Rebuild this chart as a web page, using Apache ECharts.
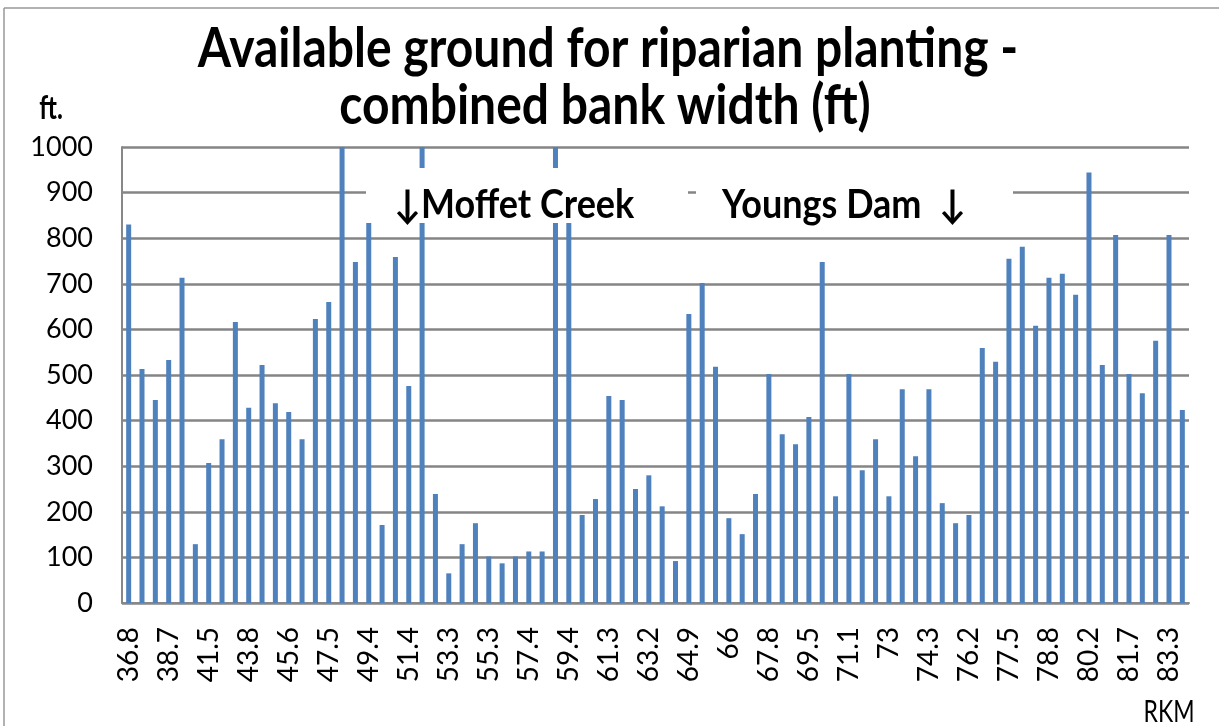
<!DOCTYPE html>
<html><head><meta charset="utf-8">
<script src="https://cdn.jsdelivr.net/npm/echarts@6/dist/echarts.min.js"></script>
<style>html,body{margin:0;padding:0;background:#fff}#c{width:1219px;height:726px}</style>
</head><body><div id="c"></div>
<script>
// RKM labels shown on the axis (every third bar carries a label)
const tickLabels = ['36.8','38.7','41.5','43.8','45.6','47.5','49.4','51.4','53.3','55.3','57.4','59.4','61.3','63.2','64.9','66','67.8','69.5','71.1','73','74.3','76.2','77.5','78.8','80.2','81.7','83.3'];
// combined bank width (ft), one value per bar, left to right
const widths = [
  830,513,445,533,713,129,307,359,616,428,
  522,438,419,359,623,660,1000,748,850,171,
  759,476,1000,239,65,129,175,102,87,102,
  113,113,1000,850,193,228,454,445,250,280,
  212,92,634,702,518,186,151,239,502,370,
  348,408,748,234,502,291,359,234,469,322,
  469,219,175,193,559,529,755,781,608,713,
  722,676,944,522,807,502,460,575,807,423
];
const yTicks = [0,100,200,300,400,500,600,700,800,900,1000];
const categories = widths.map((v, i) => (i % 3 === 0 && tickLabels[i / 3] !== undefined) ? tickLabels[i / 3] : '');

const chart = echarts.init(document.getElementById('c'), null, {renderer: 'canvas'});
const FONT = 'Lato, "Open Sans", sans-serif';
chart.setOption({
  animation: false,
  grid: {left: 122, right: 30, top: 147, bottom: 123, containLabel: false},
  xAxis: {
    type: 'category',
    data: categories,
    boundaryGap: true,
    axisLine: {show: true, lineStyle: {color: '#888', width: 2}},
    axisTick: {show: false},
    axisLabel: {
      interval: 0, rotate: 90, margin: 24,
      color: '#000', fontFamily: FONT, fontSize: 28
    },
    splitLine: {show: false}
  },
  yAxis: {
    type: 'value', min: yTicks[0], max: yTicks[yTicks.length - 1], interval: 100,
    axisLine: {show: true, lineStyle: {color: '#888', width: 2}},
    axisTick: {show: false},
    axisLabel: {margin: 29, color: '#000', fontFamily: FONT, fontSize: 27,
      formatter: v => String(v)},
    splitLine: {show: true, lineStyle: {color: '#858585', width: 2.5}}
  },
  series: [{
    type: 'bar',
    data: widths,
    barWidth: 5,
    clip: true,
    itemStyle: {color: '#4F81BD'}
  }],
  graphic: [
    {type: 'line', shape: {x1: 4, y1: 8, x2: 1219, y2: 8}, style: {stroke: '#999', lineWidth: 1.5}, z: 50},
    {type: 'line', shape: {x1: 4, y1: 8, x2: 4, y2: 726}, style: {stroke: '#999', lineWidth: 1.5}, z: 50},
    {type: 'text', x: 608, y: 49, scaleY: 1.14, z: 100,
      style: {text: 'Available ground for riparian planting -', align: 'center', verticalAlign: 'middle',
        font: 'bold 48px ' + FONT, fill: '#000'}},
    {type: 'text', x: 605, y: 106, scaleY: 1.14, z: 100,
      style: {text: 'combined bank width (ft)', align: 'center', verticalAlign: 'middle',
        font: 'bold 48px ' + FONT, fill: '#000'}},
    {type: 'text', x: 51, y: 109, scaleY: 1.3, z: 100,
      style: {text: 'ft.', align: 'center', verticalAlign: 'middle', font: 'bold 25px ' + FONT, fill: '#000'}},
    {type: 'rect', shape: {x: 366, y: 168, width: 322, height: 55}, style: {fill: '#fff'}, z: 90},
    {type: 'rect', shape: {x: 696, y: 168, width: 317, height: 55}, style: {fill: '#fff'}, z: 90},
    {type: 'text', x: 394, y: 205, scaleY: 1.1, z: 100,
      style: {text: '↓Moffet Creek', align: 'left', verticalAlign: 'middle', font: 'bold 36px ' + FONT, fill: '#000'}},
    {type: 'text', x: 722, y: 205, scaleY: 1.1, z: 100,
      style: {text: 'Youngs Dam  ↓', align: 'left', verticalAlign: 'middle', font: 'bold 36px ' + FONT, fill: '#000'}},
    {type: 'text', x: 1169, y: 712, scaleY: 1.3, z: 100,
      style: {text: 'RKM', align: 'center', verticalAlign: 'middle', font: '23px ' + FONT, fill: '#000'}}
  ]
});
</script></body></html>
